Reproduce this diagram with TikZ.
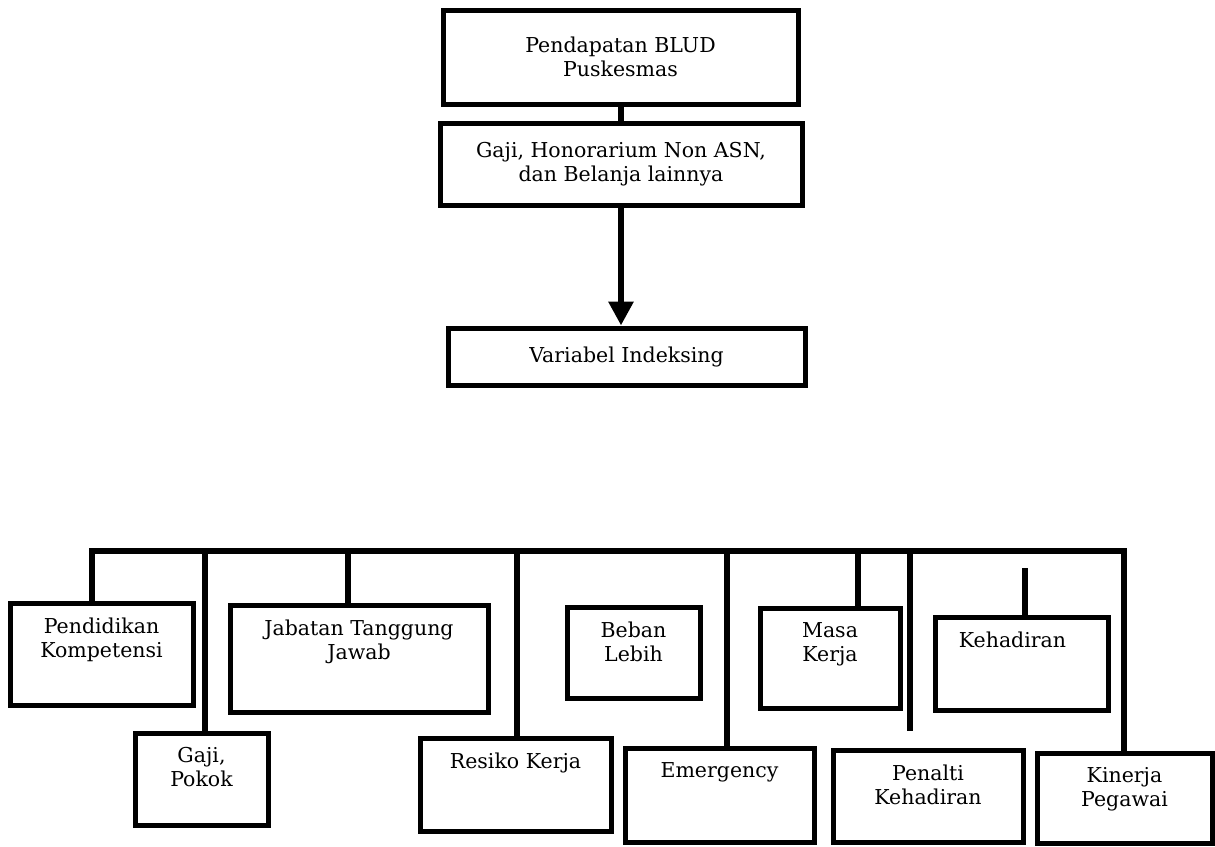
\documentclass[tikz,border=0pt]{standalone}
\usepackage{fontspec}
\setmainfont{DejaVu Serif}
\usepackage{tikz}
\usetikzlibrary{arrows.meta,positioning,calc}

\newcommand{\boxfont}{\fontsize{20.5}{24}\selectfont}

\begin{document}
\begin{tikzpicture}[
    x=1pt, y=-1pt,
    %–––– STYLES ––––
    box/.style  = {draw=black, line width=5pt, inner sep=0pt, fill=white},
    midbox/.style = {box, font=\boxfont, align=center},
    txt/.style  = {font=\boxfont, align=center, anchor=north,
                   inner sep=0pt, yshift=-17pt},
    conn/.style = {line width=6pt},
    arrow/.style = {conn, -{Triangle[length=24pt, width=24pt]}},
]
\useasboundingbox (0,0) rectangle (1215,846);

%–––– TOP FLOW ––––
\node (pendapatan) [midbox, minimum width=355, minimum height=94] at (620.5,57)
      {Pendapatan BLUD\\Puskesmas};
\node (belanja)    [midbox, minimum width=362, minimum height=82] at (621,164)
      {Gaji, Honorarium Non ASN,\\dan Belanja lainnya};
\node (variabel)   [midbox, minimum width=357, minimum height=57] at (626.5,356.5)
      {Variabel Indeksing};

%–––– INDEX VARIABLES (upper row) ––––
\node (pend)   [box, minimum width=183, minimum height=102,
                label={[txt]north:{Pendidikan\\Kompetensi}}] at (101.5,654) {};
\node (jab)    [box, minimum width=258, minimum height=107,
                label={[txt]north:{Jabatan Tanggung\\Jawab}}] at (359,658.5) {};
\node (beban)  [box, minimum width=133, minimum height=91,
                label={[txt]north:{Beban\\Lebih}}] at (633.5,652.5) {};
\node (masa)   [box, minimum width=140, minimum height=100,
                label={[txt]north:{Masa\\Kerja}}] at (830,658) {};
\node (hadir)  [box, minimum width=173, minimum height=93,
                label={[txt, xshift=-9pt]north:{Kehadiran}}] at (1021.5,663.5) {};

%–––– INDEX VARIABLES (lower row) ––––
\node (gaji)   [box, minimum width=133, minimum height=92,
                label={[txt]north:{Gaji,\\Pokok}}] at (201.5,779) {};
\node (resiko) [box, minimum width=191, minimum height=93,
                label={[txt]north:{Resiko Kerja}}] at (515.5,784.5) {};
\node (emerg)  [box, minimum width=189, minimum height=94,
                label={[txt]north:{Emergency}}] at (719.5,795) {};
\node (penalti)[box, minimum width=190, minimum height=92,
                label={[txt]north:{Penalti\\Kehadiran}}] at (928,796) {};
\node (kinerja)[box, minimum width=175, minimum height=90,
                label={[txt]north:{Kinerja\\Pegawai}}] at (1124.5,798) {};

%–––– ARROWS ––––
\draw[conn]  (pendapatan.south) -- (pendapatan.south |- belanja.north);
\draw[arrow] (belanja.south) -- (belanja.south |- variabel.north);

%–––– BUS ––––
\coordinate (busL) at (92,551);
\coordinate (busR) at (1124,551);
\draw[conn, line join=miter] (busL |- pend.north) -- (busL) -- (busR) -- (busR |- kinerja.north);
\draw[conn] ($(variabel.south)+(6,0)$) -- ($(variabel.south)+(6,0)$ |- busL);

\foreach \x/\n in {205/gaji, 348/jab, 517/resiko, 727/emerg, 858/masa}
  \draw[conn] (\x,551) coordinate (t\n) -- (t\n |- \n.north);

\draw[conn, shorten >=17pt] (910,551) coordinate (tpenalti) -- (tpenalti |- penalti.north);
\draw[conn, shorten <=17pt] (1025,551) coordinate (thadir) -- (thadir |- hadir.north);
\end{tikzpicture}
\end{document}
